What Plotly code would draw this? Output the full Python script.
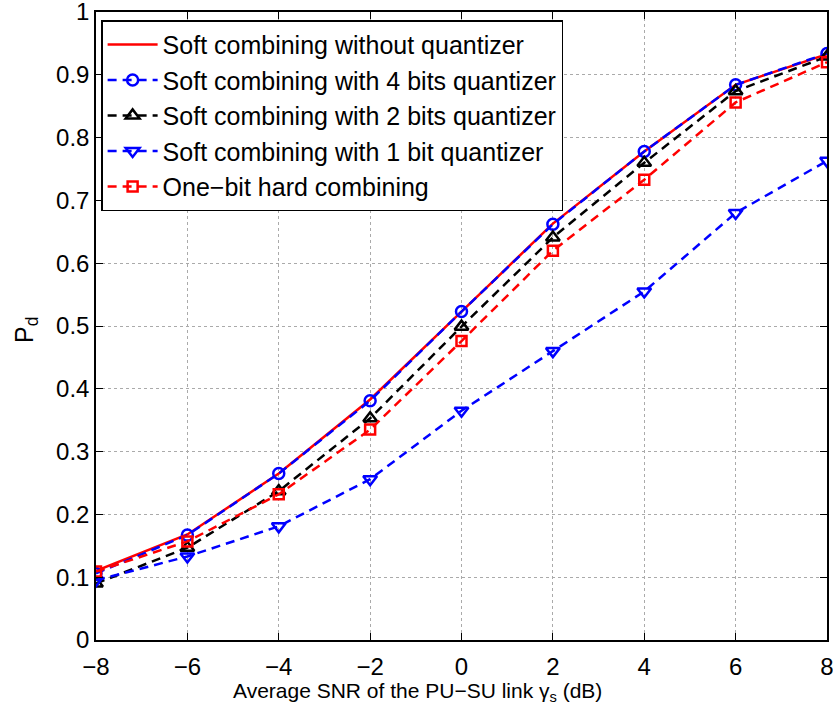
import plotly.graph_objects as go

snr = [-8, -6, -4, -2, 0, 2, 4, 6, 8]
soft_noq = [0.110, 0.168, 0.265, 0.383, 0.523, 0.663, 0.778, 0.884, 0.933]
soft_4bit = [0.106, 0.167, 0.265, 0.381, 0.523, 0.662, 0.778, 0.884, 0.934]
soft_2bit = [0.090, 0.147, 0.237, 0.353, 0.499, 0.641, 0.760, 0.874, 0.929]
soft_1bit = [0.095, 0.133, 0.181, 0.256, 0.365, 0.460, 0.555, 0.680, 0.763]
hard_1bit = [0.109, 0.157, 0.232, 0.335, 0.476, 0.620, 0.733, 0.856, 0.920]

names = ["Soft combining without quantizer",
         "Soft combining with 4 bits quantizer",
         "Soft combining with 2 bits quantizer",
         "Soft combining with 1 bit quantizer",
         "One\u2212bit hard combining"]
x_ticks = [-8, -6, -4, -2, 0, 2, 4, 6, 8]
x_ticktext = ["\u22128", "\u22126", "\u22124", "\u22122", "0", "2", "4", "6", "8"]
y_ticks = [0, 0.1, 0.2, 0.3, 0.4, 0.5, 0.6, 0.7, 0.8, 0.9, 1]
y_ticktext = ["0", "0.1", "0.2", "0.3", "0.4", "0.5", "0.6", "0.7", "0.8", "0.9", "1"]
x_title = "Average SNR of the PU\u2212SU link \u03b3<sub>s</sub> (dB)"
y_title = "P<sub>d</sub>"

fig = go.Figure()
dash = "9px,6px"
fig.add_trace(go.Scatter(x=snr, y=soft_noq, name=names[0], mode="lines",
                         line=dict(color="#ff0000", width=2.5)))
fig.add_trace(go.Scatter(x=snr, y=soft_4bit, name=names[1], mode="lines+markers",
                         line=dict(color="#0000ff", width=2.5, dash=dash),
                         marker=dict(symbol="circle-open", size=11, color="#0000ff",
                                     line=dict(width=2.5, color="#0000ff"))))
fig.add_trace(go.Scatter(x=snr, y=soft_2bit, name=names[2], mode="lines+markers",
                         line=dict(color="#000000", width=2.5, dash=dash),
                         marker=dict(symbol="triangle-up-open", size=12, color="#000000",
                                     line=dict(width=2.5, color="#000000"))))
fig.add_trace(go.Scatter(x=snr, y=soft_1bit, name=names[3], mode="lines+markers",
                         line=dict(color="#0000ff", width=2.5, dash=dash),
                         marker=dict(symbol="triangle-down-open", size=12, color="#0000ff",
                                     line=dict(width=2.5, color="#0000ff"))))
fig.add_trace(go.Scatter(x=snr, y=hard_1bit, name=names[4], mode="lines+markers",
                         line=dict(color="#ff0000", width=2.5, dash=dash),
                         marker=dict(symbol="square-open", size=10, color="#ff0000",
                                     line=dict(width=2.5, color="#ff0000"))))

font = "Liberation Sans, Arial, sans-serif"
axis_common = dict(showline=True, linecolor="black", linewidth=1.5, mirror="ticks",
                   ticks="inside", ticklen=7, tickcolor="black", tickwidth=1,
                   showgrid=True, gridcolor="#aaaaaa", griddash="dot", gridwidth=1,
                   zeroline=False, automargin=False, ticklabeloverflow="allow",
                   tickfont=dict(family=font, size=24, color="black"))

fig.update_layout(
    width=833, height=709,
    margin=dict(l=96, r=6, t=12, b=69),
    paper_bgcolor="white", plot_bgcolor="white",
    font=dict(family=font, size=21, color="black"),
    showlegend=True,
    legend=dict(x=0.007, y=0.987, xanchor="left", yanchor="top",
                bordercolor="black", borderwidth=1.5, bgcolor="white",
                itemwidth=50,
                font=dict(family=font, size=25, color="black")),
    xaxis=dict(range=[-8, 8], tickvals=x_ticks, ticktext=x_ticktext,
               ticklabelstandoff=4, **axis_common),
    yaxis=dict(range=[0, 1], tickvals=y_ticks, ticktext=y_ticktext, **axis_common),
    annotations=[
        dict(text=x_title, xref="paper", yref="paper", x=(417 - 96) / 731,
             y=-(692 - 640) / 628, xanchor="center", yanchor="middle",
             showarrow=False, font=dict(family=font, size=21, color="black")),
        dict(text=y_title, xref="paper", yref="paper", x=-(96 - 26) / 731,
             y=(640 - 330) / 628, xanchor="center", yanchor="middle", textangle=-90,
             showarrow=False, font=dict(family=font, size=25, color="black")),
    ],
)

fig.write_html("out.html")
